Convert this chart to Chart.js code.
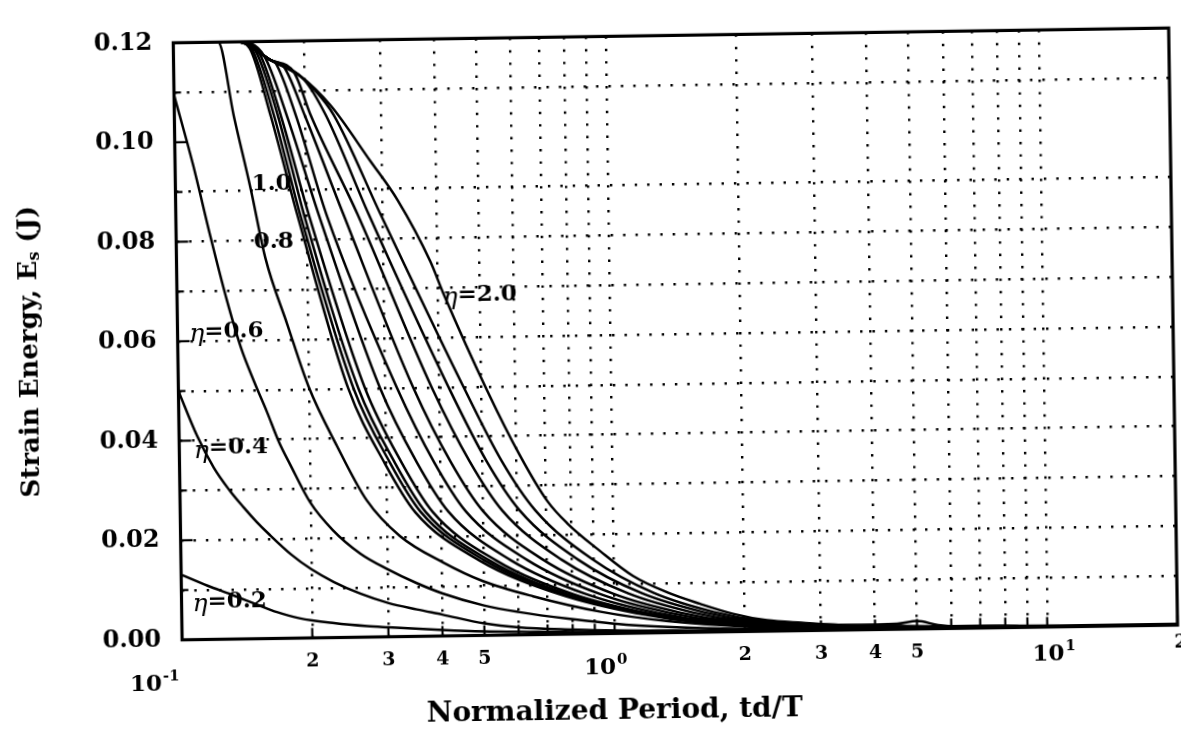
<!DOCTYPE html>
<html><head><meta charset="utf-8">
<script src="https://cdn.jsdelivr.net/npm/chart.js@4"></script>
<style>
html,body{margin:0;padding:0;background:#fff;overflow:hidden;width:1181px;height:750px}
#wrap{position:absolute;left:0;top:0;width:1181px;height:750px;transform:rotate(-0.85deg);transform-origin:675px 325px}
canvas{display:block}
</style></head><body>
<div id="wrap"><canvas id="c" width="1181" height="750"></canvas></div>
<script>
// ---- axes / ticks ----
const xGridTicks=[0.1,0.2,0.3,0.4,0.5,0.6,0.7,0.8,0.9,1,2,3,4,5,6,7,8,9,10,20];
const yTicks=[0,0.01,0.02,0.03,0.04,0.05,0.06,0.07,0.08,0.09,0.10,0.11,0.12];
const xLabelValues=[0.1,0.2,0.3,0.4,0.5,1,2,3,4,5,10,20];
const xLabelText=['10','2','3','4','5','10','2','3','4','5','10','2'];
const xLabelSup=['-1','','','','','0','','','','','1',''];
const xTitle='Normalized Period, td/T';
const yTitle=['Strain Energy, E','s',' (J)'];

// ---- curves: [td/T, Es] ----
const eta02=[[0.1,0.0131],[0.115,0.0108],[0.13,0.0090],[0.15,0.0068],[0.166,0.0053],[0.187,0.0040],[0.225,0.0029],[0.268,0.0022],[0.30,0.0019],[0.4,0.0012],[0.5,0.0008],[0.7,0.0005],[1,0.0003],[2,0.0002],[20,0.0001]];
const eta04=[[0.1,0.0500],[0.11,0.0410],[0.12,0.0345],[0.13,0.0300],[0.14,0.0265],[0.15,0.0235],[0.16,0.0210],[0.18,0.0168],[0.20,0.0138],[0.225,0.0112],[0.26,0.0087],[0.30,0.0068],[0.35,0.0054],[0.40,0.0043],[0.5,0.0024],[0.6,0.0015],[0.8,0.0009],[1,0.0006],[2,0.0003],[20,0.0001]];
const eta06=[[0.1,0.1095],[0.11,0.0955],[0.12,0.0810],[0.13,0.0685],[0.14,0.0585],[0.15,0.0515],[0.16,0.0455],[0.17,0.0395],[0.18,0.0350],[0.20,0.0272],[0.225,0.0216],[0.26,0.0168],[0.30,0.0136],[0.35,0.0107],[0.40,0.0086],[0.5,0.0060],[0.6,0.0046],[0.78,0.0031],[1.1,0.0016],[1.6,0.0008],[2.5,0.0004],[20,0.0001]];
const eta08=[[0.1,0.12],[0.127,0.12],[0.1373,0.105],[0.1492,0.0905],[0.1605,0.0765],[0.1794,0.0631],[0.2,0.0505],[0.2315,0.0385],[0.270,0.0275],[0.3214,0.0202],[0.403,0.0148],[0.498,0.0109],[0.65,0.0077],[0.93,0.0044],[1.33,0.0023],[2,0.0010],[3,0.0005],[20,0.0001]];
const eta10=[[0.1,0.12],[0.141,0.12],[0.15,0.1187],[0.167,0.105],[0.191,0.085],[0.247,0.050],[0.2976,0.035],[0.349,0.025],[0.491,0.015],[0.749,0.008],[1.12,0.004],[1.575,0.002],[3,0.0008],[5,0.0004],[20,0.0001]];
const eta11=[[0.1,0.12],[0.141,0.12],[0.152,0.1184],[0.170,0.105],[0.194,0.085],[0.254,0.050],[0.3064,0.035],[0.3596,0.025],[0.505,0.015],[0.766,0.008],[1.142,0.004],[1.60,0.002],[3,0.0008],[5,0.0004],[20,0.0001]];
const eta12=[[0.1,0.12],[0.141,0.12],[0.155,0.118],[0.1735,0.105],[0.198,0.085],[0.2606,0.050],[0.3144,0.035],[0.369,0.025],[0.5176,0.015],[0.782,0.008],[1.162,0.004],[1.622,0.002],[3,0.0008],[5,0.0004],[20,0.0001]];
const eta13=[[0.1,0.12],[0.141,0.12],[0.158,0.1176],[0.1763,0.105],[0.203,0.085],[0.270,0.050],[0.326,0.035],[0.383,0.025],[0.5356,0.015],[0.805,0.008],[1.19,0.004],[1.654,0.002],[3,0.0008],[5,0.0004],[20,0.0001]];
const eta14=[[0.1,0.12],[0.141,0.12],[0.162,0.1171],[0.182,0.105],[0.214,0.085],[0.2925,0.050],[0.3535,0.035],[0.4165,0.025],[0.579,0.015],[0.86,0.008],[1.257,0.004],[1.73,0.002],[3,0.0009],[5,0.0004],[20,0.0001]];
const eta15=[[0.1,0.12],[0.141,0.12],[0.168,0.1162],[0.172,0.1157],[0.191,0.105],[0.223,0.085],[0.320,0.050],[0.3874,0.035],[0.457,0.025],[0.632,0.015],[0.925,0.008],[1.336,0.004],[1.818,0.002],[3,0.0009],[5,0.0004],[20,0.0001]];
const eta16=[[0.1,0.12],[0.141,0.12],[0.168,0.1162],[0.18,0.1148],[0.2002,0.105],[0.244,0.085],[0.349,0.050],[0.4233,0.035],[0.5009,0.025],[0.688,0.015],[0.994,0.008],[1.418,0.004],[1.909,0.002],[3,0.0010],[5,0.0004],[20,0.0001]];
const eta17=[[0.1,0.12],[0.141,0.12],[0.168,0.1162],[0.19,0.1136],[0.2067,0.105],[0.263,0.085],[0.385,0.050],[0.4685,0.035],[0.5555,0.025],[0.7576,0.015],[1.078,0.008],[1.517,0.004],[2.017,0.002],[3,0.0010],[5,0.0005],[20,0.0001]];
const eta18=[[0.1,0.12],[0.141,0.12],[0.168,0.1162],[0.20,0.1122],[0.2239,0.105],[0.279,0.085],[0.421,0.050],[0.5126,0.035],[0.609,0.025],[0.8258,0.015],[1.159,0.008],[1.612,0.004],[2.118,0.002],[3,0.0011],[5,0.0005],[20,0.0001]];
const eta19=[[0.1,0.12],[0.141,0.12],[0.168,0.1162],[0.197,0.1128],[0.21,0.1104],[0.2336,0.105],[0.297,0.085],[0.456,0.050],[0.5555,0.035],[0.6614,0.025],[0.8917,0.015],[1.236,0.008],[1.701,0.004],[2.214,0.002],[3,0.0012],[5,0.0005],[20,0.0001]];
const eta20=[[0.1,0.12],[0.141,0.12],[0.168,0.1162],[0.197,0.1128],[0.230,0.1069],[0.283,0.0956],[0.326,0.0877],[0.386,0.0753],[0.4125,0.0689],[0.517,0.0492],[0.612,0.0361],[0.706,0.0268],[0.783,0.0223],[0.931,0.0166],[1.107,0.0115],[1.326,0.0081],[1.578,0.0057],[1.88,0.0036],[2.25,0.0022],[2.7,0.0016],[3.5,0.0010],[4.5,0.0011],[5,0.0016],[5.6,0.0007],[7,0.0002],[20,0.0001]];

const etaValues=[0.2,0.4,0.6,0.8,1.0,1.1,1.2,1.3,1.4,1.5,1.6,1.7,1.8,1.9,2.0];
const curves=[eta02,eta04,eta06,eta08,eta10,eta11,eta12,eta13,eta14,eta15,eta16,eta17,eta18,eta19,eta20];

// curve annotations: [x, y, prefix(italic), text]
const curveLabels=[[0.106,0.0076,'η','=0.2'],[0.1080,0.0384,'η','=0.4'],[0.1065,0.0618,'η','=0.6'],[0.1510,0.0797,'','0.8'],[0.1500,0.0914,'','1.0'],[0.4110,0.0685,'η','=2.0']];

const SERIF='"DejaVu Serif", "Liberation Serif", serif';

const deco={
  id:'deco',
  afterDraw(chart){
    const {ctx,chartArea:a,scales:{x,y}}=chart;
    ctx.save();
    ctx.setLineDash([]);
    ctx.strokeStyle='#000';
    // inward y ticks
    ctx.lineWidth=2.2;
    yTicks.forEach((v,i)=>{
      const py=y.getPixelForValue(v);
      const len=(i%2===0)?12:7;
      ctx.beginPath();ctx.moveTo(a.left,py);ctx.lineTo(a.left+len,py);ctx.stroke();
    });
    // inward x ticks
    xGridTicks.forEach(v=>{
      const px=x.getPixelForValue(v);
      ctx.beginPath();ctx.moveTo(px,a.bottom);ctx.lineTo(px,a.bottom-10);ctx.stroke();
    });
    // frame
    ctx.lineWidth=3.2;
    ctx.strokeRect(a.left,a.top,a.right-a.left,a.bottom-a.top);
    // x tick labels
    ctx.fillStyle='#000';
    ctx.textBaseline='middle';
    xLabelValues.forEach((v,i)=>{
      const px=x.getPixelForValue(v);
      const base=xLabelText[i], sup=xLabelSup[i];
      if(!sup){
        ctx.font='bold 19px '+SERIF;ctx.textAlign='center';
        ctx.fillText(base,px+(v===20?3:0),a.bottom+(v===20?18:24));
        return;
      }
      ctx.font='bold 23px '+SERIF;
      const bw=ctx.measureText(base).width;
      ctx.font='bold 15px '+SERIF;
      const sw=ctx.measureText(sup).width;
      let yy, x0;
      if(v===0.1){yy=a.bottom+45;x0=px-bw-sw-4;}
      else if(v===1){yy=a.bottom+35;x0=px-(bw+sw)/2-10;}
      else {yy=a.bottom+28;x0=px-(bw+sw)/2+6;}
      ctx.textAlign='left';
      ctx.font='bold 23px '+SERIF;ctx.fillText(base,x0,yy);
      ctx.font='bold 15px '+SERIF;ctx.fillText(sup,x0+bw+1,yy-8);
    });
    // axis titles
    ctx.font='bold 28px '+SERIF;ctx.textAlign='center';ctx.textBaseline='middle';
    ctx.fillText(xTitle,609,711);
    ctx.save();
    ctx.translate(30,342);ctx.rotate(-Math.PI/2);
    ctx.font='bold 26px '+SERIF;
    const w0=ctx.measureText(yTitle[0]).width;
    ctx.font='bold 16px '+SERIF;
    const w1=ctx.measureText(yTitle[1]).width;
    ctx.font='bold 26px '+SERIF;
    const w2=ctx.measureText(yTitle[2]).width;
    const tot=w0+w1+w2; let sx=-tot/2;
    ctx.textAlign='left';
    ctx.fillText(yTitle[0],sx,0);sx+=w0;
    ctx.font='bold 16px '+SERIF;ctx.fillText(yTitle[1],sx,6);sx+=w1;
    ctx.font='bold 26px '+SERIF;ctx.fillText(yTitle[2],sx,0);
    ctx.restore();
    // curve labels
    curveLabels.forEach(l=>{
      let px=x.getPixelForValue(l[0]);const py=y.getPixelForValue(l[1]);
      ctx.textAlign='left';ctx.textBaseline='middle';
      if(l[2]){
        ctx.font='italic 25px '+SERIF;ctx.fillText(l[2],px,py+3);
        px+=ctx.measureText(l[2]).width;
      }
      ctx.font='bold 23px '+SERIF;ctx.fillText(l[3],px,py);
    });
    ctx.restore();
  }
};

const gridColor=c=>{
  const v=c.tick?c.tick.value:null;
  return (v===0.1||v===20||v===0||v===0.12)?'rgba(0,0,0,0)':'#000';
};

new Chart(document.getElementById('c'),{
  type:'line',
  data:{datasets:curves.map((c,i)=>({
    label:'η='+etaValues[i].toFixed(1),
    data:c.map(p=>({x:p[0],y:p[1]})),
    borderColor:'#000',borderWidth:2.5,pointRadius:0,fill:false,
    cubicInterpolationMode:'monotone'
  }))},
  options:{
    responsive:false,animation:false,devicePixelRatio:1,
    layout:{padding:{top:17,right:8,left:0,bottom:0}},
    plugins:{legend:{display:false},tooltip:{enabled:false}},
    scales:{
      x:{type:'logarithmic',min:0.1,max:20,
        afterBuildTicks:s=>{s.ticks=xGridTicks.map(v=>({value:v}));},
        afterFit:s=>{s.height=117.5;},
        ticks:{display:false},
        grid:{drawTicks:false,lineWidth:2.4,color:gridColor},
        border:{display:false,dash:[2.4,10]}},
      y:{type:'linear',min:0,max:0.12,
        afterBuildTicks:s=>{s.ticks=yTicks.map(v=>({value:v}));},
        afterFit:s=>{s.width=177.5;},
        ticks:{padding:21,color:'#000',font:{family:SERIF,weight:'bold',size:24},
          callback:(v,i)=>(i%2===0)?Number(v).toFixed(2):''},
        grid:{drawTicks:false,lineWidth:2.4,color:gridColor},
        border:{display:false,dash:[2.4,10]}}
    }
  },
  plugins:[deco]
});
</script>
</body></html>
